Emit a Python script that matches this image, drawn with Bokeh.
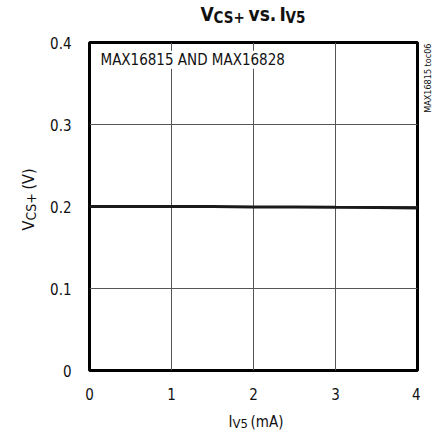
import math
from bokeh.plotting import figure
from bokeh.models import Label, FixedTicker, Range1d
from bokeh.layouts import column, row
from bokeh.embed import file_html
from bokeh.resources import INLINE

# data
iv5_ma = [0, 0.5, 1, 1.5, 2, 2.5, 3, 3.5, 4]
vcs_v = [0.2, 0.2, 0.2, 0.2, 0.1995, 0.1993, 0.199, 0.1988, 0.1983]
x_ticks = [0, 1, 2, 3, 4]
y_ticks = [0, 0.1, 0.2, 0.3, 0.4]
y_tick_labels = {0: "0", 0.1: "0.1", 0.2: "0.2", 0.3: "0.3", 0.4: "0.4"}

FONT = "'Liberation Sans Narrow', 'DejaVu Sans Condensed', 'Roboto Condensed', 'Arial Narrow', sans-serif"
INK = "#111111"
SHIFT = 0.45  # em; compensates the label baseline placement

TOTAL_W = 436
TITLE_H = 30
MID_H = 372
XLAB_H = 28
YLAB_W = 44
SIDE_W = 16
MAIN_W = TOTAL_W - YLAB_W - SIDE_W


def blank(width, height):
    f = figure(width=width, height=height, output_backend="svg", toolbar_location=None,
               x_axis_location=None, y_axis_location=None, min_border=0,
               x_range=Range1d(0, 1), y_range=Range1d(0, 1))
    f.grid.visible = False
    f.outline_line_color = None
    f.background_fill_color = "white"
    f.border_fill_color = "white"
    return f


def lab(fig, text, x, y, size, bold=False, angle=0, align="left", **kw):
    # x, y: baseline position in pixels relative to the frame (y up from bottom edge)
    if angle:
        x = x - SHIFT * size
    else:
        y = y + SHIFT * size
    fig.add_layout(Label(x=x, y=y, x_units="screen", y_units="screen", text=text,
                         text_font=FONT, text_font_size=f"{size}px",
                         text_font_style="bold" if bold else "normal",
                         text_color=INK, text_align=align,
                         text_baseline="alphabetic", angle=angle, **kw))


# ---- main chart ----
p = figure(width=MAIN_W, height=MID_H, output_backend="svg", toolbar_location=None,
           x_range=Range1d(0, 4), y_range=Range1d(0, 0.4),
           min_border_left=45, min_border_right=MAIN_W - 45 - 328, min_border_top=12,
           min_border_bottom=MID_H - 12 - 328)
p.background_fill_color = "white"
p.border_fill_color = "white"
p.outline_line_color = "black"
p.outline_line_width = 3

for ax in (p.xaxis[0], p.yaxis[0]):
    ax.axis_line_color = None
    ax.major_tick_line_color = None
    ax.minor_tick_line_color = None
    ax.major_tick_out = 0
    ax.major_tick_in = 0
    ax.major_label_text_font = FONT
    ax.major_label_text_font_size = "15px"
    ax.major_label_text_color = INK
p.xaxis.major_label_standoff = 17
p.yaxis.major_label_standoff = 18
p.xaxis.ticker = FixedTicker(ticks=x_ticks)
p.yaxis.ticker = FixedTicker(ticks=y_ticks)
p.yaxis.major_label_overrides = y_tick_labels

p.xgrid.ticker = FixedTicker(ticks=x_ticks[1:-1])
p.ygrid.ticker = FixedTicker(ticks=y_ticks[1:-1])
for g in (p.xgrid[0], p.ygrid[0]):
    g.grid_line_color = "#555555"
    g.grid_line_width = 1

p.line(iv5_ma, vcs_v, line_color="#1a1a1a", line_width=3)

lab(p, "MAX16815 AND MAX16828", 11, 304, 15, background_fill_color="white")

# ---- title: V_CS+ vs. I_V5 ----
t = blank(TOTAL_W, TITLE_H)
lab(t, "V", 200, 8, 19, bold=True)
lab(t, "CS+", 213, 6, 15, bold=True)
lab(t, "vs.", 248, 8, 19, bold=True)
lab(t, "I", 279, 8, 19, bold=True)
lab(t, "V5", 285, 6, 15, bold=True)

# ---- y label: V_CS+ (V), rotated (frame aligned with the chart frame) ----
yl = blank(YLAB_W, MID_H)
lab(yl, "V", 35, 140, 16, angle=math.pi / 2)
lab(yl, "CS+", 37, 150, 14, angle=math.pi / 2)
lab(yl, "(V)", 35, 181, 16, angle=math.pi / 2)

# ---- side note ----
sd = blank(SIDE_W, MID_H)
lab(sd, "MAX16815 toc06", 12, 327, 9, angle=math.pi / 2, align="right")

# ---- x label: I_V5 (mA) ----
xl = blank(TOTAL_W, XLAB_H)
lab(xl, "I", 228, 2, 15)
lab(xl, "V5", 232, 1, 13)
lab(xl, "(mA)", 250, 2, 15)

layout = column(t, row(yl, p, sd), xl)
open("out.html", "w").write(file_html(layout, INLINE))
